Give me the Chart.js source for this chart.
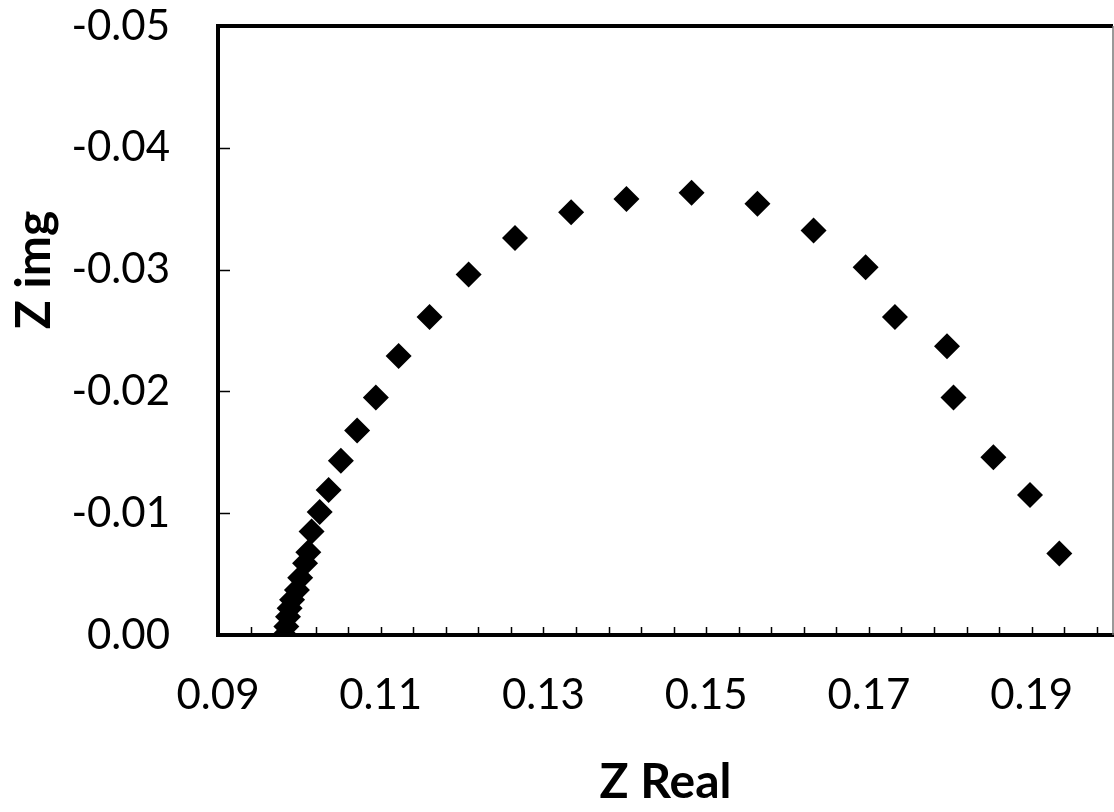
<!DOCTYPE html>
<html>
<head>
<meta charset="utf-8">
<script src="https://cdn.jsdelivr.net/npm/chart.js@4"></script>
<style>
  html, body { margin: 0; padding: 0; background: #fff; overflow: hidden; }
  #wrap { width: 1114px; height: 812px; }
</style>
</head>
<body>
<div id="wrap"><canvas id="chart" width="1114" height="812"></canvas></div>
<script>
// Nyquist data
const zReal = [
  0.0982, 0.0984, 0.0986, 0.0988, 0.0991, 0.0997, 0.1001, 0.1007, 0.1011, 0.1015,
  0.1025, 0.1036, 0.1051, 0.1071, 0.1094, 0.1122, 0.1160, 0.1208, 0.1265, 0.1334,
  0.1402, 0.1482, 0.1563, 0.1632, 0.1696, 0.1732, 0.1796, 0.1804, 0.1853, 0.1898,
  0.1934
];
const zImg = [
  0.0000, -0.0007, -0.0015, -0.0022, -0.0029, -0.0037, -0.0047, -0.0059, -0.0068, -0.0085,
  -0.0101, -0.0119, -0.0143, -0.0168, -0.0195, -0.0229, -0.0261, -0.0296, -0.0326, -0.0347,
  -0.0358, -0.0363, -0.0354, -0.0332, -0.0302, -0.0261, -0.0237, -0.0195, -0.0146, -0.0115,
  -0.0067
];

const xTicks = [0.09, 0.11, 0.13, 0.15, 0.17, 0.19];
const yTicks = [0, -0.01, -0.02, -0.03, -0.04, -0.05];
const xMinorStep = 0.004;

const FONT = 'Lato, "Open Sans", sans-serif';

// inner tick marks, top/right frame and the rotated y title
const framePlugin = {
  id: 'frame',
  beforeDatasetsDraw(chart) {
    const { ctx, chartArea, scales } = chart;
    const { left, right, top, bottom } = chartArea;
    ctx.save();
    ctx.strokeStyle = '#000';
    ctx.lineWidth = 1.5;
    ctx.beginPath();
    for (let v = xTicks[0] + xMinorStep; v < scales.x.max - 1e-9; v += xMinorStep) {
      const px = Math.round(scales.x.getPixelForValue(v)) + 0.5;
      ctx.moveTo(px, bottom);
      ctx.lineTo(px, bottom - 8);
    }
    yTicks.forEach(v => {
      const py = Math.round(scales.y.getPixelForValue(v)) + 0.5;
      ctx.moveTo(left, py);
      ctx.lineTo(left + 12, py);
    });
    ctx.stroke();

    ctx.lineWidth = 4;
    ctx.beginPath();
    ctx.moveTo(left - 2, top);
    ctx.lineTo(right, top);
    ctx.stroke();
    ctx.strokeStyle = '#777';
    ctx.lineWidth = 1.5;
    ctx.beginPath();
    ctx.moveTo(right, top);
    ctx.lineTo(right, bottom);
    ctx.stroke();

    ctx.translate(35, 270);
    ctx.rotate(-Math.PI / 2);
    ctx.fillStyle = '#000';
    ctx.font = 'bold 48px ' + FONT;
    ctx.textAlign = 'center';
    ctx.textBaseline = 'middle';
    ctx.fillText('Z img', 0, 0);
    ctx.restore();
  }
};

new Chart(document.getElementById('chart'), {
  type: 'scatter',
  data: {
    datasets: [{
      data: zReal.map((x, i) => ({ x: x, y: zImg[i] })),
      pointStyle: 'rectRot',
      pointRadius: 13,
      pointHoverRadius: 13,
      backgroundColor: '#000',
      borderColor: '#000',
      borderWidth: 0
    }]
  },
  options: {
    responsive: false,
    animation: false,
    devicePixelRatio: 1,
    layout: { autoPadding: false, padding: { top: 26, right: 1, left: 0, bottom: 0 } },
    plugins: {
      legend: { display: false },
      tooltip: { enabled: false }
    },
    scales: {
      x: {
        type: 'linear',
        min: 0.09,
        max: 0.2,
        afterBuildTicks: s => { s.ticks = xTicks.map(v => ({ value: v })); },
        afterFit: s => { s.height = 177; s.paddingLeft = 0; s.paddingRight = 0; },
        grid: { display: false, drawTicks: false },
        border: { display: true, color: '#000', width: 4 },
        ticks: {
          color: '#000',
          padding: 35,
          font: { family: FONT, size: 42 },
          callback: v => v.toFixed(2)
        },
        title: {
          display: true,
          text: 'Z Real',
          color: '#000',
          font: { family: FONT, size: 48, weight: 'bold' },
          padding: { top: 0, bottom: 1 }
        }
      },
      y: {
        type: 'linear',
        min: -0.05,
        max: 0,
        reverse: true,
        afterBuildTicks: s => { s.ticks = yTicks.map(v => ({ value: v })); },
        afterFit: s => { s.width = 218; s.paddingTop = 0; s.paddingBottom = 0; },
        grid: { display: false, drawTicks: false },
        border: { display: true, color: '#000', width: 4 },
        ticks: {
          color: '#000',
          padding: 48,
          font: { family: FONT, size: 42 },
          callback: v => v.toFixed(2)
        }
      }
    }
  },
  plugins: [framePlugin]
});
</script>
</body>
</html>
